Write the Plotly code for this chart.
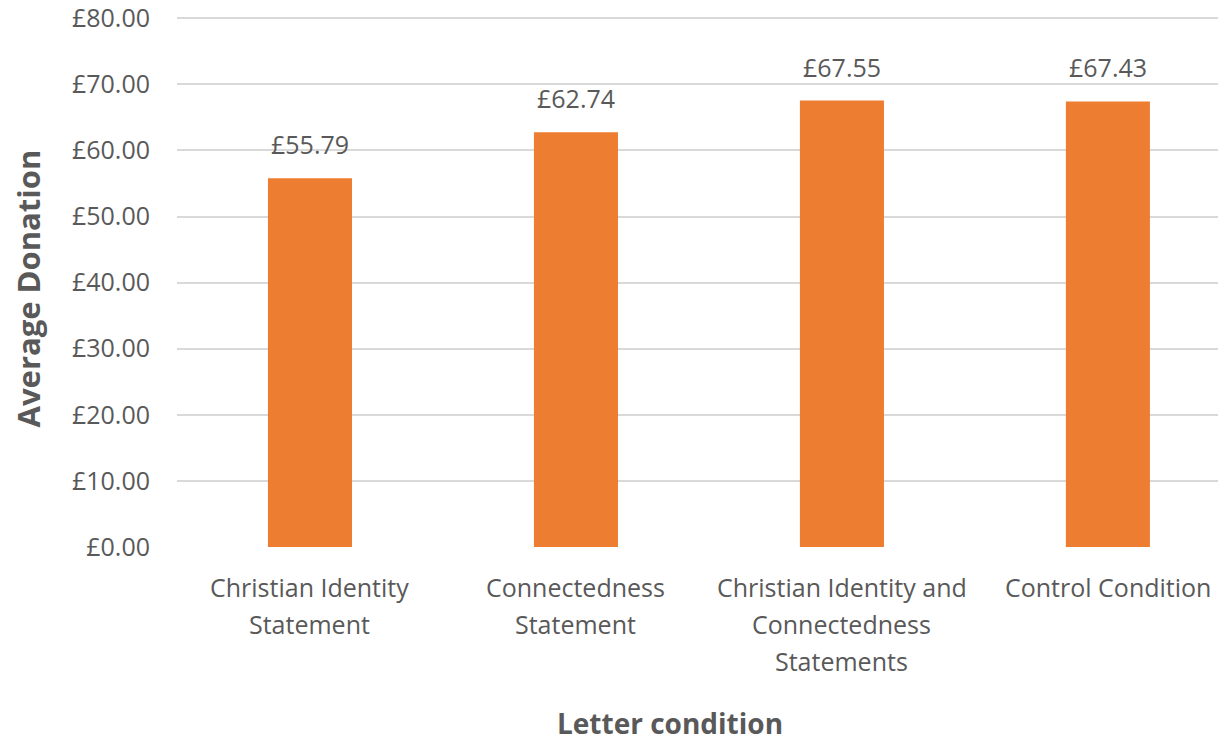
import plotly.graph_objects as go

categories = ["Christian Identity Statement", "Connectedness Statement",
              "Christian Identity and Connectedness Statements", "Control Condition"]
tick_lines = [["Christian Identity", "Statement"],
              ["Connectedness", "Statement"],
              ["Christian Identity and", "Connectedness", "Statements"],
              ["Control Condition"]]
values = [55.79, 62.74, 67.55, 67.43]
y_ticks = [0, 10, 20, 30, 40, 50, 60, 70, 80]
y_tick_labels = ["£%.2f" % v for v in y_ticks]
value_labels = ["£%.2f" % v for v in values]

FONT = "Open Sans"
GREY = "#595959"

fig = go.Figure()
fig.add_trace(go.Bar(x=categories, y=values, marker=dict(color="#ED7D31", line=dict(width=0)),
                     hoverinfo="skip"))

# value labels above bars
for c, v, t in zip(categories, values, value_labels):
    fig.add_annotation(x=c, y=v, text=t, showarrow=False, yanchor="middle", yshift=34,
                       font=dict(family=FONT, size=25, color=GREY))

# category labels (multi-line) under the axis
for c, lines in zip(categories, tick_lines):
    for i, line in enumerate(lines):
        fig.add_annotation(x=c, y=0, text=line, showarrow=False, yanchor="middle",
                           yshift=-(40 + 37 * i), font=dict(family=FONT, size=25, color=GREY))

# axis titles
fig.add_annotation(x=0.47, y=0, xref="paper", yref="paper", yshift=-176, text="<b>Letter condition</b>",
                   showarrow=False, font=dict(family=FONT, size=28, color=GREY), yanchor="middle")
fig.add_annotation(x=0, y=0.486, xref="paper", yref="paper", xshift=-149, textangle=-90,
                   text="<b>Average Donation</b>", showarrow=False,
                   font=dict(family=FONT, size=31, color=GREY), xanchor="center", yanchor="middle")

fig.update_layout(
    width=1218, height=734,
    margin=dict(l=169, r=0, t=7, b=195),
    plot_bgcolor="white", paper_bgcolor="white",
    showlegend=False, bargap=0.684,
    font=dict(family=FONT, color=GREY),
    xaxis=dict(range=[-0.5, 3.444], showgrid=False, zeroline=False, showline=False,
               showticklabels=False, ticks="", automargin=False),
    yaxis=dict(range=[0, 80.5], tickmode="array", tickvals=y_ticks, ticktext=y_tick_labels,
               showgrid=True, gridcolor="#D9D9D9", gridwidth=1.5, zeroline=False, showline=False,
               ticks="", ticklabelstandoff=26, automargin=False, ticklabeloverflow="allow",
               tickfont=dict(family=FONT, size=25, color=GREY)),
)

fig.write_html("out.html")
